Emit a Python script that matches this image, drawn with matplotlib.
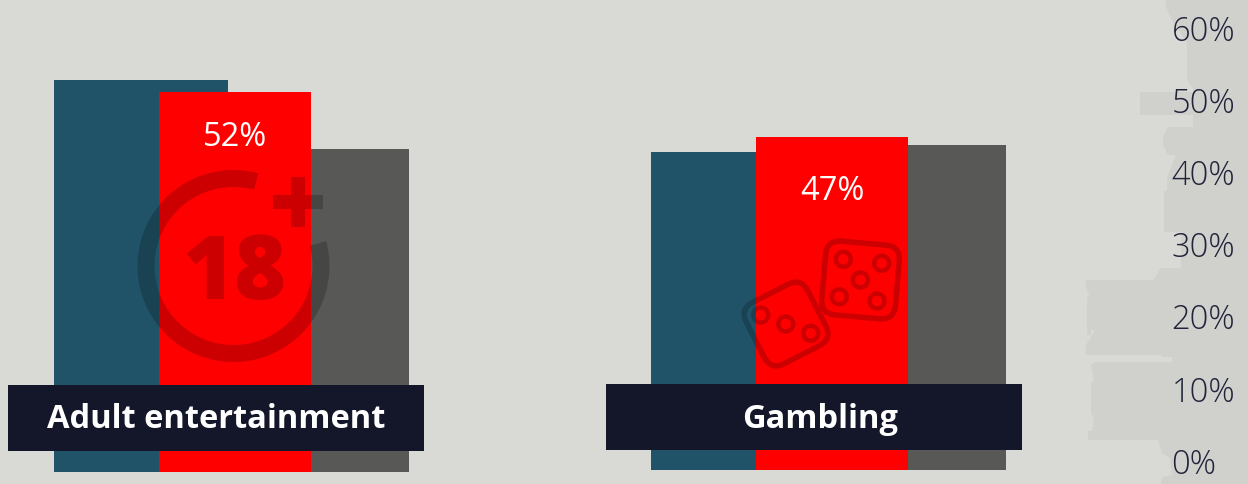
import matplotlib
matplotlib.use('Agg')
import matplotlib.pyplot as plt
from matplotlib.patches import Wedge, Rectangle, Polygon, FancyBboxPatch, Circle
from matplotlib.transforms import Affine2D

plt.rcParams['font.family'] = ['Open Sans', 'DejaVu Sans']

categories = ['Adult entertainment', 'Gambling']
adult_values = [53.7, 52, 44.3]
gambling_values = [44.9, 47, 45.9]
value_labels = ['52%', '47%']
tick_values = [0, 10, 20, 30, 40, 50, 60]
tick_labels = ['0%', '10%', '20%', '30%', '40%', '50%', '60%']

W, H = 1248, 484
BG = '#D9DAD5'
SHADE = '#D0D1CC'
BLUE = '#205368'
RED = '#FF0000'
GREY = '#585957'
NAVY = '#141729'
TICK = '#20243A'

fig = plt.figure(figsize=(W / 100, H / 100), dpi=100, facecolor=BG)


def px_axes(x0, x1, y_top, y_bottom, zorder):
    # axes placed by pixel box of the figure
    ax = fig.add_axes([x0 / W, 1 - y_bottom / H, (x1 - x0) / W, (y_bottom - y_top) / H], zorder=zorder)
    ax.patch.set_alpha(0)
    for s in ax.spines.values():
        s.set_visible(False)
    return ax


def draw_group(ax, values, x_blue, x_red, x_grey):
    ax.bar(x_blue, values[0], width=174, align='edge', color=BLUE, zorder=1)
    ax.bar(x_grey, values[2], width=98, align='edge', color=GREY, zorder=2)
    ax.bar(x_red, values[1], width=152, align='edge', color=RED, zorder=3)
    ax.set_xticks([])
    ax.set_yticks([])


# background shape on the right
bg = px_axes(0, W, 0, H, 0)
bg.set_xlim(0, W)
bg.set_ylim(H, 0)
bg.axis('off')
shape = [(1166, 0), (1166, 7), (1172, 20), (1187, 43), (1187, 80), (1193, 88), (1193, 92), (1140, 92), (1140, 115),
         (1193, 115), (1193, 127), (1168, 127), (1163, 137), (1163, 145), (1168, 155), (1176, 155), (1167, 178),
         (1167, 191), (1164, 191), (1164, 232), (1181, 232), (1181, 268), (1161, 268), (1153, 280), (1086, 280),
         (1086, 287), (1089, 295), (1087, 298), (1087, 335), (1091, 335), (1091, 330), (1095, 330), (1086, 345),
         (1086, 355), (1161, 355), (1161, 357), (1172, 357), (1172, 362), (1095, 362), (1091, 365), (1094, 380),
         (1091, 383), (1091, 412), (1094, 420), (1092, 431), (1088, 431), (1088, 440), (1158, 440), (1162, 453),
         (1170, 458), (1172, 475), (1162, 477), (1161, 484), (W, 484), (W, 0)]
bg.add_patch(Polygon(shape, closed=True, fc=SHADE, ec='none'))

# bars, each group has its own scale
ax1 = px_axes(0, 600, 0, 472, 1)
ax1.set_xlim(0, 600)
ax1.set_ylim(0, 472 / 7.3)
draw_group(ax1, adult_values, 54, 159, 311)

ax2 = px_axes(600, W, 0, 470, 1)
ax2.set_xlim(600, W)
ax2.set_ylim(0, 470 / 7.085)
draw_group(ax2, gambling_values, 651, 756, 908)

# icons and label boxes
top = px_axes(0, W, 0, H, 2)
top.set_xlim(0, W)
top.set_ylim(H, 0)
top.axis('off')
shade = dict(fc='black', ec='none', alpha=0.2)

top.add_patch(Wedge((233.5, 266), 96, -15, 285, width=17, **shade))
top.add_patch(Rectangle((272.5, 195), 50, 13.5, **shade))
top.add_patch(Rectangle((291, 177), 13.5, 18, **shade))
top.add_patch(Rectangle((291, 208.5), 13.5, 18.5, **shade))
top.text(234, 265, '18', fontsize=64, fontweight=800, color='black', alpha=0.2, ha='center', va='center_baseline')


def die(cx, cy, side, angle, pips):
    box = FancyBboxPatch((cx - side / 2, cy - side / 2), side, side, boxstyle='round,pad=0,rounding_size=15',
                         fc='none', ec='black', lw=4, alpha=0.2)
    box.set_transform(Affine2D().rotate_deg_around(cx, cy, angle) + top.transData)
    top.add_patch(box)
    for p in pips:
        top.add_patch(Circle(p, 7.5, fc='none', ec='black', lw=3.2, alpha=0.2))


die(786, 324, 69, -27, [(760.7, 315), (785.7, 324), (810.7, 333.3)])
die(860.5, 280, 74, 5, [(843.3, 259.3), (881.7, 263.3), (860.3, 280), (839.3, 296.7), (877, 301)])

top.add_patch(Rectangle((8, 385), 416, 66, fc=NAVY, ec='none'))
top.add_patch(Rectangle((606, 384), 416, 66, fc=NAVY, ec='none'))
top.text(216.5, 420, categories[0], fontsize=23.5, fontweight='bold', color='white', ha='center', va='center')
top.text(820.5, 419, categories[1], fontsize=23.5, fontweight='bold', color='white', ha='center', va='center')
top.text(235, 137, value_labels[0], fontsize=23.5, color='white', ha='center', va='center')
top.text(832, 192, value_labels[1], fontsize=23.5, color='white', ha='center', va='center')

# percent axis
ax3 = px_axes(1165, 1170, 28, 461, 3)
ax3.set_ylim(0, 60)
ax3.set_xticks([])
ax3.yaxis.tick_right()
ax3.set_yticks(tick_values)
ax3.set_yticklabels(tick_labels, fontsize=23.5, color=TICK, fontweight=300)
ax3.tick_params(axis='y', length=0, pad=1)

fig.savefig('out.png', dpi=100, facecolor=BG)
